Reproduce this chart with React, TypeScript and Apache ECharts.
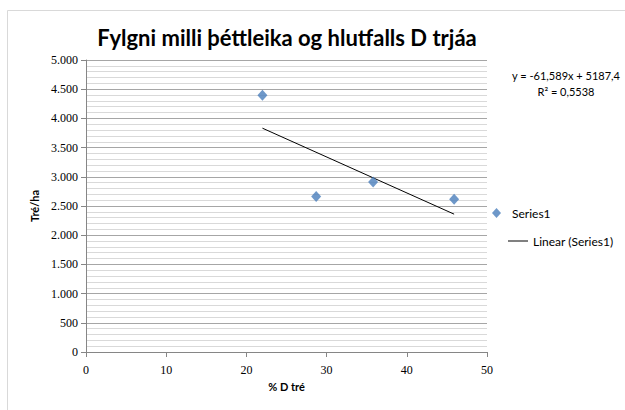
import React, { useEffect, useRef } from "react";
import * as echarts from "echarts";

const title = "Fylgni milli þéttleika og hlutfalls D trjáa";
const xName = "% D tré";
const yName = "Tré/ha";
const pctD = [22, 28.7, 35.8, 45.9];
const treesPerHa = [4395, 2664, 2909, 2617];
const slope = -61.589;
const intercept = 5187.4;
const equationLines = ["y = -61,589x + 5187,4", "R² = 0,5538"];
const seriesName = "Series1";
const trendName = "Linear (Series1)";

const fmtThousands = (v: number) =>
  String(v).replace(/\B(?=(\d{3})+(?!\d))/g, ".");

export default function App() {
  const ref = useRef<HTMLDivElement>(null);
  useEffect(() => {
    const chart = echarts.init(ref.current!, undefined, { renderer: "svg" });
    const xMin = Math.min(...pctD);
    const xMax = Math.max(...pctD);
    const trend = [
      [xMin, slope * xMin + intercept],
      [xMax, slope * xMax + intercept],
    ];
    const scatterData = pctD.map((x, i) => [x, treesPerHa[i]]);
    const font = "'Liberation Serif', serif";
    const sans = "Lato, 'Open Sans', sans-serif";
    chart.setOption({
      animation: false,
      backgroundColor: "#fff",
      title: {
        text: title,
        left: 282,
        textAlign: "center",
        top: 21,
        textStyle: { fontFamily: sans, fontWeight: "bold", fontSize: 22, color: "#000" },
      },
      grid: { left: 86, right: 138, top: 60, bottom: 58 },
      xAxis: {
        type: "value",
        min: 0,
        max: 50,
        interval: 10,
        name: xName,
        nameLocation: "middle",
        nameGap: 23,
        nameTextStyle: { fontFamily: sans, fontWeight: "bold", fontSize: 11, color: "#000" },
        axisLine: { lineStyle: { color: "#868686" } },
        axisTick: { show: true, length: 5, lineStyle: { color: "#868686" } },
        axisLabel: { fontFamily: font, fontSize: 12, color: "#000", margin: 12 },
        splitLine: { show: false },
      },
      yAxis: {
        type: "value",
        min: 0,
        max: 5000,
        interval: 500,
        name: yName,
        nameLocation: "middle",
        nameGap: 46,
        nameRotate: 90,
        nameTextStyle: { fontFamily: sans, fontWeight: "bold", fontSize: 11, color: "#000" },
        axisLine: { show: true, lineStyle: { color: "#868686" } },
        axisTick: { show: true, length: 5, lineStyle: { color: "#868686" } },
        axisLabel: {
          fontFamily: font,
          fontSize: 12,
          color: "#000",
          margin: 8,
          formatter: (v: number) => fmtThousands(v),
        },
        splitLine: { show: true, lineStyle: { color: "#a6a6a6", width: 1 } },
        minorTick: { show: false, splitNumber: 5 },
        minorSplitLine: { show: true, lineStyle: { color: "#d9d9d9", width: 1 } },
      },
      legend: [
        {
          data: [{ name: seriesName, icon: "diamond" }],
          left: 492,
          top: 207,
          padding: 0,
          itemWidth: 9,
          itemHeight: 10,
          textStyle: { fontFamily: sans, fontSize: 12, color: "#000", padding: [0, 0, 0, 6] },
        },
        {
          data: [{ name: trendName, icon: "rect" }],
          left: 508,
          top: 235,
          padding: 0,
          itemWidth: 20,
          itemHeight: 1,
          textStyle: { fontFamily: sans, fontSize: 12, color: "#000" },
        },
      ],
      graphic: equationLines.map((t, i) => ({
        type: "text",
        x: 566,
        y: 70 + i * 16,
        style: {
          text: t,
          fontFamily: sans,
          fontSize: 11,
          fill: "#000",
          textAlign: "center",
        },
      })).concat([
        {
          type: "rect",
          shape: { x: 7.5, y: 10.5, width: 640, height: 420 },
          style: { fill: "none", stroke: "#d9d9d9", lineWidth: 1 },
          silent: true,
        } as any,
      ]),
      series: [
        {
          name: seriesName,
          type: "scatter",
          symbol: "diamond",
          symbolSize: [10, 11],
          itemStyle: { color: "#4a7ebb" },
          data: scatterData,
          z: 3,
        },
        {
          name: trendName,
          type: "line",
          showSymbol: false,
          symbol: "none",
          lineStyle: { color: "#000", width: 1 },
          itemStyle: { color: "#000" },
          data: trend,
          z: 2,
        },
      ],
    });
    return () => chart.dispose();
  }, []);
  return (
    <div
      ref={ref}
      style={{ position: "absolute", left: 0, top: 0, width: 625, height: 410 }}
    />
  );
}
